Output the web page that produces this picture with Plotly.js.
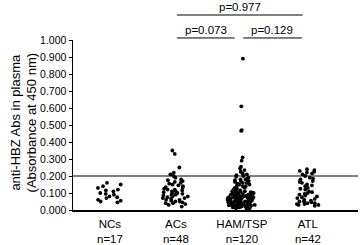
<!DOCTYPE html>
<html><head><meta charset="utf-8">
<script src="https://cdn.plot.ly/plotly-3.0.1.min.js"></script>
<style>html,body{margin:0;padding:0;background:#fff}#c{width:360px;height:245px}</style>
</head><body><div id="c"></div>
<script>
const groups = ["NCs", "ACs", "HAM/TSP", "ATL"];
const counts = [17, 48, 120, 42];
const ncs = [0.16,0.15,0.14,0.13,0.12,0.115,0.11,0.10,0.095,0.09,0.08,0.075,0.07,0.06,0.055,0.05,0.045];
const acs = [0.35,0.33,0.25,0.22,0.21,0.20,0.19,0.18,0.175,0.17,0.165,0.16,0.155,0.15,0.145,0.14,0.135,0.13,0.125,0.12,0.12,0.115,0.11,0.11,0.105,0.10,0.10,0.095,0.09,0.09,0.085,0.08,0.08,0.075,0.07,0.07,0.065,0.06,0.06,0.055,0.05,0.05,0.045,0.04,0.04,0.035,0.03,0.02];
const ham = [0.89,0.61,0.47,0.465,0.31,0.29,0.255,0.245,0.235,0.225,0.215,0.21,0.205,0.20,
0.195,0.19,0.185,0.18,0.18,0.175,0.17,0.17,0.165,0.16,
0.16,0.155,0.15,0.15,0.145,0.14,0.14,0.135,0.13,0.13,
0.125,0.12,0.12,0.12,0.115,0.11,0.11,0.11,0.105,0.10,
0.10,0.10,0.10,0.095,0.095,0.09,0.09,0.09,0.085,0.085,
0.08,0.08,0.08,0.08,0.075,0.075,0.075,0.07,0.07,0.07,
0.07,0.065,0.065,0.065,0.06,0.06,0.06,0.06,0.055,0.055,
0.055,0.05,0.05,0.05,0.05,0.045,0.045,0.045,0.04,0.04,
0.04,0.04,0.035,0.035,0.035,0.03,0.03,0.03,0.03,0.025,
0.025,0.025,0.02,0.02,0.02,0.015,0.015,0.01,0.01,0.005,
0.115,0.105,0.095,0.085,0.075,0.068,0.062,0.058,0.052,0.048,0.042,0.038,0.032,0.028,0.022,0.018];
const atl = [0.24,0.235,0.23,0.225,0.22,0.215,0.21,0.20,0.19,0.185,0.18,0.17,0.165,0.16,0.15,0.145,0.14,0.13,0.125,0.12,0.11,0.105,0.10,0.095,0.09,0.085,0.08,0.075,0.07,0.065,0.06,0.055,0.05,0.05,0.045,0.04,0.04,0.035,0.035,0.03,0.03,0.025];
const series = [ncs, acs, ham, atl];
const pLabels = ["p=0.073", "p=0.129", "p=0.977"];
const yTitle = "anti-HBZ Abs in plasma<br>(Absorbance at 450 nm)";
const cutoff = 0.2;

const traces = series.map((vals, i) => ({
  type: "box",
  x: vals.map(() => groups[i]),
  y: vals,
  boxpoints: "all",
  pointpos: 0,
  jitter: 0.9,
  fillcolor: "rgba(0,0,0,0)",
  line: {color: "rgba(0,0,0,0)", width: 0},
  whiskerwidth: 0,
  marker: {color: "#000", size: 3.8},
  hoverinfo: "skip",
  showlegend: false
}));

const font = {family: "Liberation Sans, Arial, sans-serif", color: "#000"};
const layout = {
  width: 360, height: 245,
  margin: {l: 73, r: 2, t: 40, b: 35},
  paper_bgcolor: "#fff", plot_bgcolor: "#fff",
  font: font,
  boxgap: 0.3,
  xaxis: {
    type: "category",
    categoryorder: "array", categoryarray: groups,
    range: [-0.56, 3.76],
    tickvals: groups,
    ticktext: groups.map((g, i) => g + "<br>n=" + counts[i]),
    ticks: "", showline: true, linecolor: "#000", linewidth: 1.5,
    showgrid: false, zeroline: false,
    ticklabelstandoff: 3,
    tickfont: {size: 11.5, family: font.family, color: "#000"},
    fixedrange: true
  },
  yaxis: {
    range: [0, 1], dtick: 0.1, tickformat: ".3f",
    ticks: "outside", ticklen: 3, tickcolor: "#000",
    showline: true, linecolor: "#000", linewidth: 1.5,
    showgrid: false, zeroline: false,
    tickfont: {size: 10.5, family: font.family, color: "#000"}
  },
  shapes: [
    {type: "line", xref: "paper", yref: "y", x0: 0, x1: 1, y0: cutoff, y1: cutoff, line: {color: "#000", width: 1}},
    {type: "line", xref: "x", yref: "paper", x0: 1.015, x1: 1.89, y0: 1.012, y1: 1.012, line: {color: "#000", width: 1}},
    {type: "line", xref: "x", yref: "paper", x0: 2.02, x1: 2.91, y0: 1.012, y1: 1.012, line: {color: "#000", width: 1}},
    {type: "line", xref: "x", yref: "paper", x0: 1.015, x1: 2.92, y0: 1.147, y1: 1.147, line: {color: "#000", width: 1}}
  ],
  annotations: [
    {xref: "paper", yref: "paper", x: -0.172, y: 0.515, text: yTitle, textangle: -90, showarrow: false, xanchor: "center", yanchor: "middle", font: {size: 13}},
    {xref: "x", yref: "paper", x: 1.45, y: 1.059, text: pLabels[0], showarrow: false, yanchor: "middle", font: {size: 11.5}},
    {xref: "x", yref: "paper", x: 2.46, y: 1.059, text: pLabels[1], showarrow: false, yanchor: "middle", font: {size: 11.5}},
    {xref: "x", yref: "paper", x: 1.97, y: 1.194, text: pLabels[2], showarrow: false, yanchor: "middle", font: {size: 11.5}}
  ]
};
Plotly.newPlot("c", traces, layout, {staticPlot: true, displayModeBar: false});
</script></body></html>
